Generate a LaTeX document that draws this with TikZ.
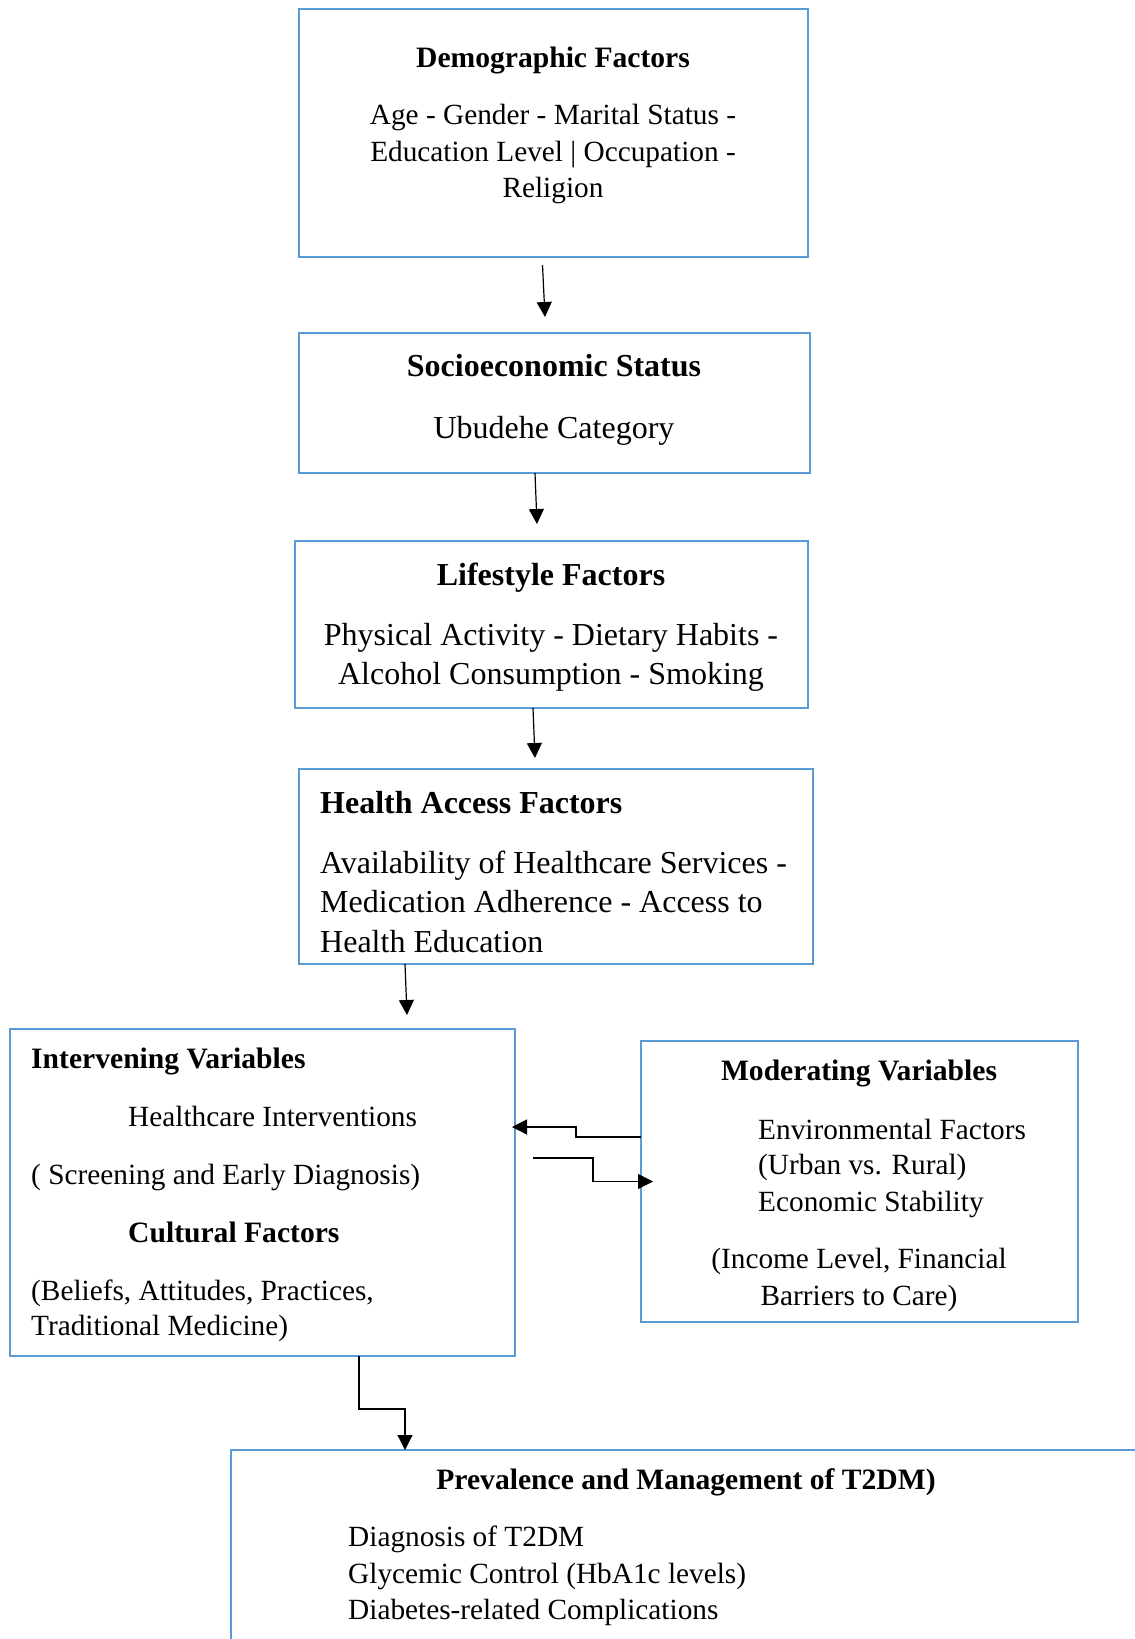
\documentclass[tikz,border=0pt]{standalone}
\usepackage{fontspec}
\setmainfont{Liberation Serif}
\usetikzlibrary{arrows.meta,calc}
\definecolor{boxblue}{RGB}{91,155,213}
\begin{document}
\begin{tikzpicture}[x=1pt,y=-1pt,
  box/.style={draw=boxblue, line width=2pt, inner sep=0pt, outer sep=0pt, rectangle},
  arr/.style={-{Triangle[length=15pt,width=15pt]}, line width=1.2pt},
  tc/.style={anchor=base, inner sep=0pt, font=\fontsize{29.3}{35}\selectfont},
  tl/.style={anchor=base west, inner sep=0pt, font=\fontsize{29.3}{35}\selectfont},
  hc/.style={tc, font=\fontsize{29.6}{35}\selectfont\bfseries},
  hl/.style={tl, font=\fontsize{29.6}{35}\selectfont\bfseries},
  bc/.style={tc, font=\fontsize{32}{38}\selectfont},
  bl/.style={tl, font=\fontsize{32}{38}\selectfont}]
\useasboundingbox (0,0) rectangle (1135,1639);
\clip (0,0) rectangle (1135,1639);
% boxes
\node[box, minimum width=509pt, minimum height=248pt] (b1) at (553.5,133) {};
\node[box, minimum width=511pt, minimum height=140pt] (b2) at (554.5,403) {};
\node[box, minimum width=513pt, minimum height=167pt] (b3) at (551.5,624.5) {};
\node[box, minimum width=514pt, minimum height=195pt] (b4) at (556,866.5) {};
\node[box, minimum width=505pt, minimum height=327pt] (b5) at (262.5,1192.5) {};
\node[box, minimum width=437pt, minimum height=281pt] (b6) at (859.5,1181.5) {};
\node[box, minimum width=949pt, minimum height=250pt] (b7) at (705.5,1575) {};
% box 1
\node[hc] (t1a) at (553,67) {Demographic Factors};
\node[tc] (t1b) at (553,124) {Age - Gender - Marital Status -};
\node[tc] (t1c) at (553,161) {Education Level | Occupation -};
\node[tc] (t1d) at (553,197) {Religion};
% box 2
\node[bc] (t2a) at (554,376) {\textbf{Socioeconomic Status}};
\node[bc] (t2b) at (554,438) {Ubudehe Category};
% box 3
\node[bc] (t3a) at (551,585) {\textbf{Lifestyle Factors}};
\node[bc] (t3b) at (551,645) {Physical Activity - Dietary Habits -};
\node[bc] (t3c) at (551,684) {Alcohol Consumption - Smoking};
% box 4
\node[bl] (t4a) at (320,813) {\textbf{Health Access Factors}};
\node[bl] (t4b) at (320,873) {Availability of Healthcare Services -};
\node[bl] (t4c) at (320,912) {Medication Adherence - Access to};
\node[bl] (t4d) at (320,952) {Health Education};
% box 5
\node[hl] (t5a) at (31,1068) {Intervening Variables};
\node[tl] (t5b) at (128,1126) {Healthcare Interventions};
\node[tl] (t5c) at (31,1184) {( Screening and Early Diagnosis)};
\node[hl] (t5d) at (128,1242) {Cultural Factors};
\node[tl] (t5e) at (31,1300) {(Beliefs, Attitudes, Practices,};
\node[tl] (t5f) at (31,1335) {Traditional Medicine)};
% box 6
\node[hc] (t6a) at (859,1080) {Moderating Variables};
\node[tl] (t6b) at (758,1139) {Environmental Factors};
\node[tl] (t6c) at (758,1174) {(Urban vs. Rural)};
\node[tl] (t6d) at (758,1211) {Economic Stability};
\node[tc] (t6e) at (859,1268) {(Income Level, Financial};
\node[tc] (t6f) at (859,1305) {Barriers to Care)};
% box 7
\node[hc] (t7a) at (686,1489) {Prevalence and Management of T2DM)};
\node[tl] (t7b) at (348,1546) {Diagnosis of T2DM};
\node[tl] (t7c) at (348,1583) {Glycemic Control (HbA1c levels)};
\node[tl] (t7d) at (348,1619) {Diabetes-related Complications};
% connectors
\draw[arr] ($(b1.south)+(-11,8)$) -- ($(b2.north)+(-9.5,-16)$);
\draw[arr] ($(b2.south)+(-19.5,0)$) -- ($(b3.north)+(-14.5,-17)$);
\draw[arr] ($(b3.south)+(-18.5,0)$) -- ($(b4.north)+(-21,-11)$);
\draw[arr] ($(b4.south)+(-151,0)$) -- ($(b5.north)+(144.5,-14)$);
\draw[arr] ($(b6.west)+(0,-44.5)$) -| ++(-65,-10) |- ($(b5.east)+(-3,-65.5)$);
\coordinate (s56) at ($(b5.east)+(18,-34.5)$);
\draw[arr] (s56) -- ++(60,0) |- ($(b6.west)+(12,0)$);
\draw[arr] ($(b5.south)+(96.5,0)$) -- ++(0,53) -| ($(b7.north west)+(174,0)$);
\end{tikzpicture}
\end{document}
